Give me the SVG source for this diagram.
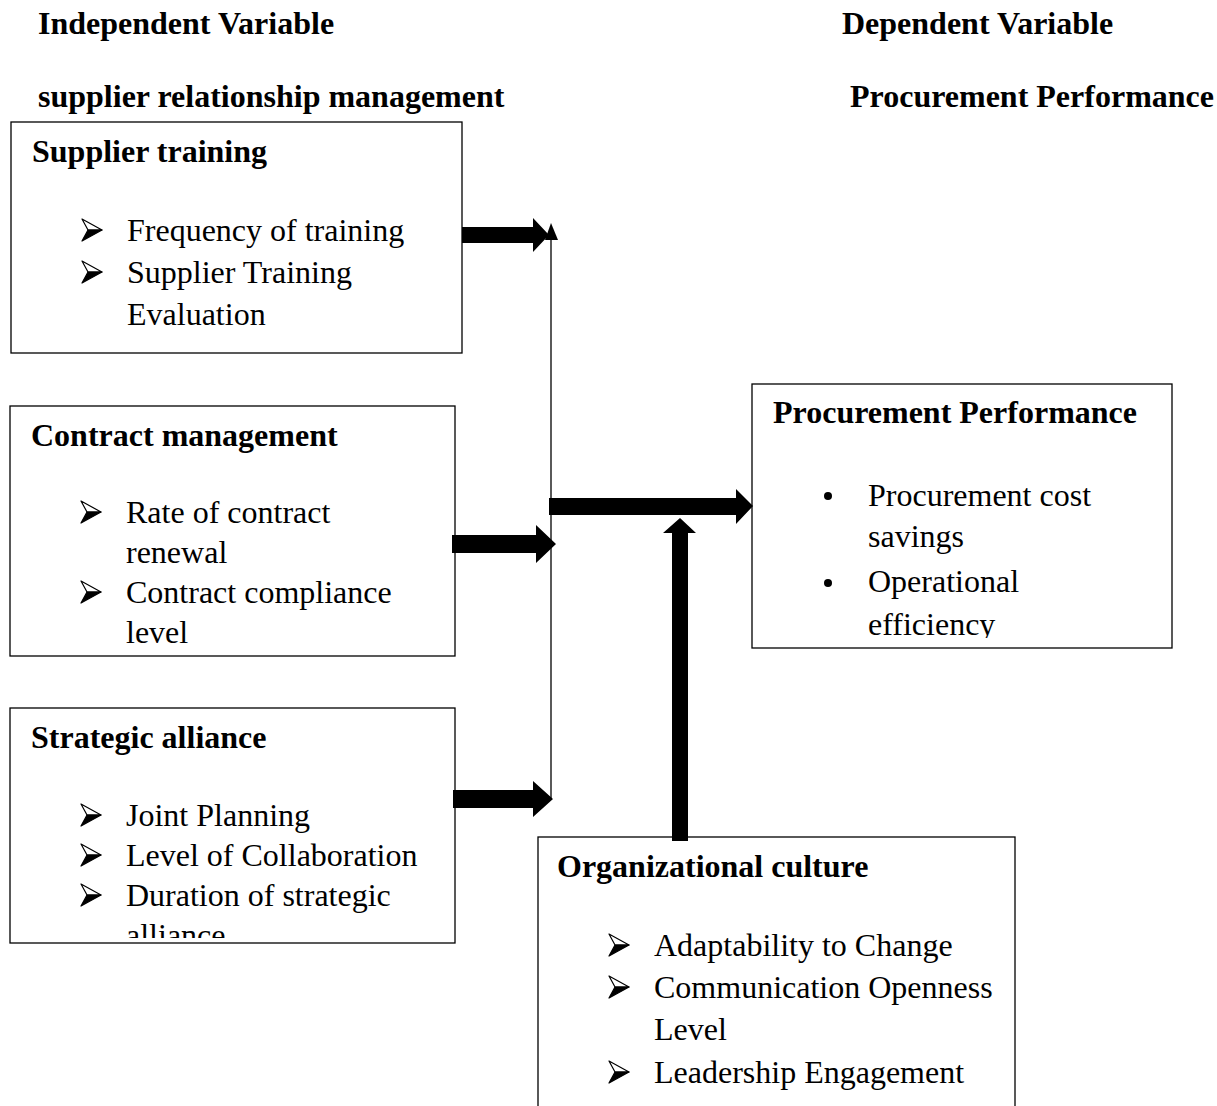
<svg xmlns="http://www.w3.org/2000/svg" width="1217" height="1106" viewBox="0 0 1217 1106">
<style>
.t{font-family:"Liberation Serif","Times New Roman",serif;font-size:32px;fill:#000}
.b{font-weight:bold}
.box{fill:#fff;stroke:#000;stroke-width:1.3}
.thick{fill:#000}
</style>
<defs>
<g id="ar">
<path d="M0,-11 L20,0 L6,0 Z" fill="#fff" stroke="#000" stroke-width="1.2" stroke-linejoin="round"/>
<path d="M6,0 L20,0 L0,11 Z" fill="#000" stroke="#000" stroke-width="1.2" stroke-linejoin="round"/>
</g>
<clipPath id="c1"><rect x="11" y="122" width="451" height="231"/></clipPath>
<clipPath id="c2"><rect x="10" y="406" width="445" height="250"/></clipPath>
<clipPath id="c3"><rect x="10" y="708" width="445" height="230"/></clipPath>
<clipPath id="c4"><rect x="752" y="384" width="420" height="254"/></clipPath>
<clipPath id="c5"><rect x="538" y="837" width="477" height="269"/></clipPath>
</defs>

<g id="headers">
<text class="t b" x="38" y="34">Independent Variable</text>
<text class="t b" x="842" y="34">Dependent Variable</text>
<text class="t b" x="38" y="107">supplier relationship management</text>
<text class="t b" x="850" y="107">Procurement Performance</text>
</g>

<g id="node-supplier-training">
<rect class="box" x="11" y="122" width="451" height="231"/>
<g clip-path="url(#c1)">
<text class="t b" x="32" y="162">Supplier training</text>
<use href="#ar" x="82" y="230"/>
<text class="t" x="127" y="241">Frequency of training</text>
<use href="#ar" x="82" y="272"/>
<text class="t" x="127" y="283">Supplier Training</text>
<text class="t" x="127" y="325">Evaluation</text>
</g>
</g>

<g id="node-contract-management">
<rect class="box" x="10" y="406" width="445" height="250"/>
<g clip-path="url(#c2)">
<text class="t b" x="31" y="446">Contract management</text>
<use href="#ar" x="81" y="512"/>
<text class="t" x="126" y="523">Rate of contract</text>
<text class="t" x="126" y="563">renewal</text>
<use href="#ar" x="81" y="592"/>
<text class="t" x="126" y="603">Contract compliance</text>
<text class="t" x="126" y="643">level</text>
</g>
</g>

<g id="node-strategic-alliance">
<rect class="box" x="10" y="708" width="445" height="235"/>
<g clip-path="url(#c3)">
<text class="t b" x="31" y="748">Strategic alliance</text>
<use href="#ar" x="81" y="815"/>
<text class="t" x="126" y="826">Joint Planning</text>
<use href="#ar" x="81" y="855"/>
<text class="t" x="126" y="866">Level of Collaboration</text>
<use href="#ar" x="81" y="895"/>
<text class="t" x="126" y="906">Duration of strategic</text>
<text class="t" x="126" y="946">alliance</text>
</g>
</g>

<g id="node-procurement-performance">
<rect class="box" x="752" y="384" width="420" height="264"/>
<g clip-path="url(#c4)">
<text class="t b" x="773" y="423">Procurement Performance</text>
<circle cx="828" cy="496" r="4"/>
<text class="t" x="868" y="506">Procurement cost</text>
<text class="t" x="868" y="547">savings</text>
<circle cx="828" cy="583" r="4"/>
<text class="t" x="868" y="592">Operational</text>
<text class="t" x="868" y="635">efficiency</text>
</g>
</g>

<g id="node-organizational-culture">
<rect class="box" x="538" y="837" width="477" height="280"/>
<g clip-path="url(#c5)">
<text class="t b" x="557" y="877">Organizational culture</text>
<use href="#ar" x="609" y="945"/>
<text class="t" x="654" y="956">Adaptability to Change</text>
<use href="#ar" x="609" y="987"/>
<text class="t" x="654" y="998">Communication Openness</text>
<text class="t" x="654" y="1040">Level</text>
<use href="#ar" x="609" y="1072"/>
<text class="t" x="654" y="1083">Leadership Engagement</text>
</g>
</g>

<g id="connectors">
<line x1="551" y1="236" x2="551" y2="800" stroke="#000" stroke-width="1.3"/>
<path d="M545,240 L551,223 L558,240 Z" class="thick"/>
<path d="M462,227 L533,227 L533,218 L549,235 L533,252 L533,243 L462,243 Z" class="thick"/>
<path d="M452,535 L536,535 L536,525 L556,544 L536,563 L536,553 L452,553 Z" class="thick"/>
<path d="M453,790 L533,790 L533,781 L553,799 L533,817 L533,808 L453,808 Z" class="thick"/>
<path d="M549,498 L736,498 L736,489 L753,506 L736,524 L736,515 L549,515 Z" class="thick"/>
<path d="M672,841 L672,533 L663,533 L680,518 L696,533 L688,533 L688,841 Z" class="thick"/>
</g>
</svg>
